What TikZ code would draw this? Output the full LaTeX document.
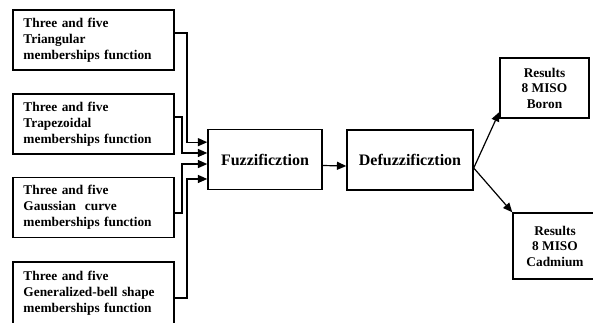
\documentclass[tikz,border=0pt]{standalone}
\usepackage{fontspec}
\setmainfont{Liberation Serif}
\usetikzlibrary{arrows.meta}
\begin{document}
\begin{tikzpicture}[x=0.75pt, y=-0.75pt,
    inbox/.style={rectangle, draw, line width=1.1pt, text width=105pt, inner xsep=8pt, minimum height=45pt, align=left, font=\bfseries\fontsize{10}{12}\selectfont},
    mainbox/.style={rectangle, draw, line width=1.1pt, minimum height=45pt, font=\bfseries\fontsize{12}{14}\selectfont},
    outbox/.style={rectangle, draw, line width=1.1pt, align=center, font=\bfseries\fontsize{10}{11.6}\selectfont}]
    \useasboundingbox (0,0) rectangle (593,322);

    \begin{scope}
      \node [inbox] (tri) at (93.5,40) {Three and five\\Triangular\\memberships function};
      \node [inbox] (trap) at (93.5,124) {Three and five\\Trapezoidal\\memberships function};
      \node [inbox] (gauss) at (93.5,207.5) {Three and five\\Gaussian~ curve\\memberships function};
      \node [inbox, minimum height=47.5pt] (bell) at (93.5,293.5) {Three and five\\Generalized-bell shape\\memberships function};
      \node [mainbox, minimum width=85.5pt] (fuzz) at (265,159.5) {Fuzzificztion};
      \node [mainbox, minimum width=94.5pt] (defuzz) at (410,160) {Defuzzificztion};
      \node [outbox, minimum width=66.75pt, minimum height=45pt] (boron) at (544.5,88) {Results\\8 MISO\\Boron};
      \node [outbox, minimum width=63pt, minimum height=49.5pt] (cadmium) at (555,246) {Results\\8 MISO\\Cadmium};
    \end{scope}

    \begin{scope}[->, >={Triangle[length=7pt,width=6pt]}, line width=0.9pt]
      \draw ([yshift=5.25pt]tri.east) -- ++(12,0) |- ([yshift=13pt]fuzz.west);
      \draw ([yshift=5.25pt]trap.east) -- ++(7,0) |- ([yshift=4.9pt]fuzz.west);
      \draw ([yshift=-4.1pt]gauss.east) -- ++(7,0) |- ([yshift=-3.4pt]fuzz.west);
      \draw ([yshift=-3.4pt]bell.east) -- ++(12,0) |- ([yshift=-14.6pt]fuzz.west);
      \draw ([yshift=-4.5pt]fuzz.east) -- ([yshift=-4.5pt]defuzz.west);
      \draw ([yshift=-6pt]defuzz.east) -- ([yshift=5pt]boron.south west);
      \draw ([yshift=-6pt]defuzz.east) -- (cadmium.north west);
    \end{scope}

\end{tikzpicture}
\end{document}
